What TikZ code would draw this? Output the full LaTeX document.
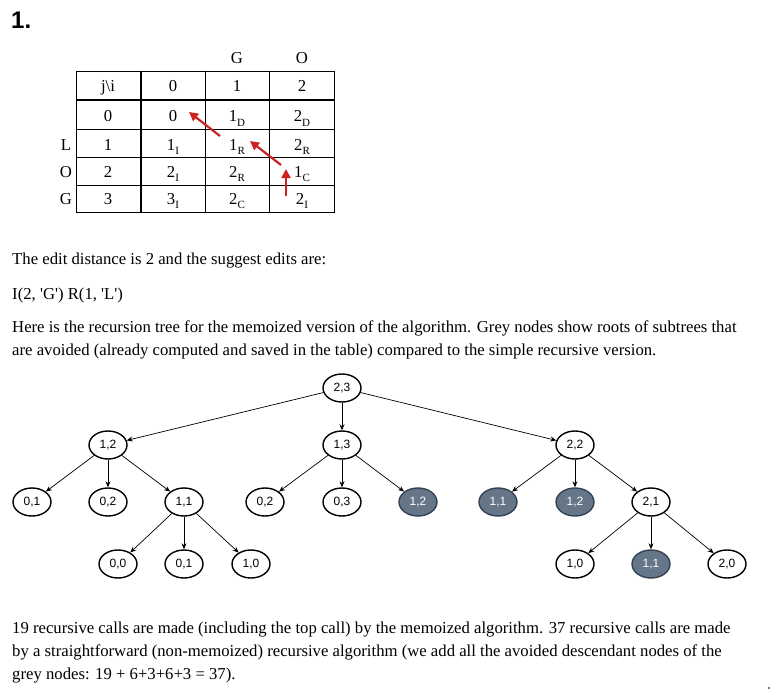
\documentclass[tikz,border=0pt]{standalone}
\usepackage{fontspec}
\setmainfont{Liberation Serif}
\newfontfamily\arialfont{Liberation Sans}
\usetikzlibrary{arrows.meta,shapes.geometric}
\definecolor{redarrow}{RGB}{204,34,34}
\definecolor{greyfill}{RGB}{100,118,135}
\definecolor{greyline}{RGB}{49,67,84}
\newcommand{\sbs}[1]{\raisebox{-0.25em}{\fontsize{11}{11}\selectfont #1}}
\newcommand{\sq}{\textquotesingle}
\tikzset{
  txt/.style={anchor=base west,inner sep=0pt,font=\fontsize{16.7}{16.7}\selectfont},
  cell/.style={anchor=base,inner sep=0pt,font=\fontsize{16.7}{16.7}\selectfont},
  tnode/.style={ellipse,draw=black,line width=1.4pt,fill=white,minimum width=38pt,minimum height=28pt,inner sep=0pt,font=\arialfont\fontsize{12}{12}\selectfont},
  gnode/.style={tnode,draw=greyline,fill=greyfill,text=white},
  edge/.style={draw=black,line width=0.7pt,-{Stealth[length=6pt,width=5pt]}},
  redarr/.style={draw=redarrow,line width=2.2pt,-{Triangle[length=9pt,width=9pt]}},
}
\begin{document}
\begin{tikzpicture}[x=1pt,y=-1pt]
\useasboundingbox (0,0) rectangle (771,690);
% heading
\node[anchor=base west,inner sep=0pt,font=\arialfont\bfseries\fontsize{24}{24}\selectfont] (h1) at (11,29) {1.};
% table
\draw[line width=0.9pt] (76,71) rectangle (334,212);
\foreach \x in {205,269} \draw[line width=0.9pt] (\x,71) -- (\x,212);
\draw[line width=1.8pt] (141,71) -- (141,212);
\foreach \y in {129,157,185} \draw[line width=0.9pt] (76,\y) -- (334,\y);
\draw[line width=1.8pt] (76,100) -- (334,100);
% column headers
\node[cell] (cg) at (237,64) {G};
\node[cell] (co) at (302,64) {O};
% row labels
\node[cell] (rl) at (66,150) {L};
\node[cell] (ro) at (66,177) {O};
\node[cell] (rg) at (66,204) {G};
% header row
\node[cell] (h0) at (108,92) {j\textbackslash i};
\node[cell] (h1c) at (173,92) {0};
\node[cell] (h2c) at (237,92) {1};
\node[cell] (h3c) at (302,92) {2};
% row 0
\node[cell] (a0) at (108,122) {0};
\node[cell] (a1) at (173,122) {0};
\node[cell] (a2) at (237,122) {1\sbs{D}};
\node[cell] (a3) at (302,122) {2\sbs{D}};
% row L
\node[cell] (b0) at (108,150) {1};
\node[cell] (b1) at (173,150) {1\sbs{I}};
\node[cell] (b2) at (237,150) {1\sbs{R}};
\node[cell] (b3) at (302,150) {2\sbs{R}};
% row O
\node[cell] (c0) at (108,177) {2};
\node[cell] (c1) at (173,177) {2\sbs{I}};
\node[cell] (c2) at (237,177) {2\sbs{R}};
\node[cell] (c3) at (302,177) {1\sbs{C}};
% row G
\node[cell] (d0) at (108,204) {3};
\node[cell] (d1) at (173,204) {3\sbs{I}};
\node[cell] (d2) at (237,204) {2\sbs{C}};
\node[cell] (d3) at (302,204) {2\sbs{I}};
% red arrows
\coordinate (r1s) at (220,136); \coordinate (r1e) at (189,112);
\coordinate (r2s) at (281,165); \coordinate (r2e) at (250,141);
\coordinate (r3s) at (286,196); \coordinate (r3e) at (286,169);
\draw[redarr] (r1s) -- (r1e);
\draw[redarr] (r2s) -- (r2e);
\draw[redarr] (r3s) -- (r3e);
% text
\node[txt] (t1) at (12,264) {The edit distance is 2 and the suggest edits are:};
\node[txt] (t2) at (12,299) {I(2, \sq G\sq) R(1, \sq L\sq)};
\node[txt] (t3) at (12,332) {Here is the recursion tree for the memoized version of the algorithm. Grey nodes show roots of subtrees that};
\node[txt] (t4) at (12,355) {are avoided (already computed and saved in the table) compared to the simple recursive version.};
\node[txt] (t5) at (12,633) {19 recursive calls are made (including the top call) by the memoized algorithm. 37 recursive calls are made};
\node[txt] (t6) at (12,656) {by a straightforward (non-memoized) recursive algorithm (we add all the avoided descendant nodes of the};
\node[txt] (t7) at (12,679) {grey nodes: 19 + 6+3+6+3 = 37).};
% tree
\node[tnode] (n23) at (342,388) {2,3};
\node[tnode] (n12) at (108,445) {1,2};
\node[tnode] (n13) at (342,445) {1,3};
\node[tnode] (n22) at (575,445) {2,2};
\node[tnode] (n01) at (32,502) {0,1};
\node[tnode] (n02) at (108,502) {0,2};
\node[tnode] (n11) at (184,502) {1,1};
\node[tnode] (m02) at (265,502) {0,2};
\node[tnode] (m03) at (342,502) {0,3};
\node[gnode] (m12) at (418,502) {1,2};
\node[gnode] (k11) at (498,502) {1,1};
\node[gnode] (k12) at (575,502) {1,2};
\node[tnode] (k21) at (651,502) {2,1};
\node[tnode] (p00) at (118,564) {0,0};
\node[tnode] (p01) at (184,564) {0,1};
\node[tnode] (p10) at (251,564) {1,0};
\node[tnode] (q10) at (575,564) {1,0};
\node[gnode] (q11) at (651,564) {1,1};
\node[tnode] (q20) at (727,564) {2,0};
\draw[edge] (n23) -- (n12);
\draw[edge] (n23) -- (n13);
\draw[edge] (n23) -- (n22);
\draw[edge] (n12) -- (n01);
\draw[edge] (n12) -- (n02);
\draw[edge] (n12) -- (n11);
\draw[edge] (n13) -- (m02);
\draw[edge] (n13) -- (m03);
\draw[edge] (n13) -- (m12);
\draw[edge] (n22) -- (k11);
\draw[edge] (n22) -- (k12);
\draw[edge] (n22) -- (k21);
\draw[edge] (n11) -- (p00);
\draw[edge] (n11) -- (p01);
\draw[edge] (n11) -- (p10);
\draw[edge] (k21) -- (q10);
\draw[edge] (k21) -- (q11);
\draw[edge] (k21) -- (q20);
% tiny dot bottom right
\fill (769,688) circle (0.9pt);
\end{tikzpicture}
\end{document}
